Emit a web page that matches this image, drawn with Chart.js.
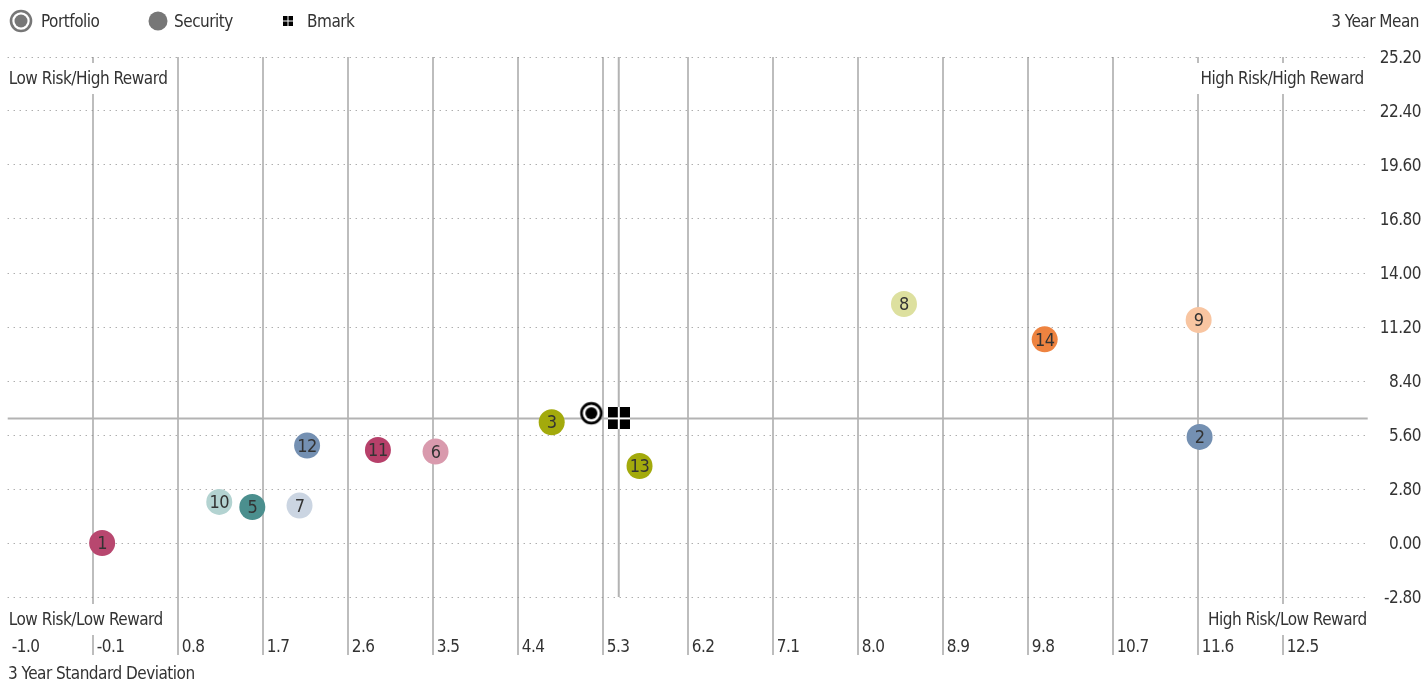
<!DOCTYPE html>
<html>
<head>
<meta charset="utf-8">
<script src="https://cdn.jsdelivr.net/npm/chart.js@4.4.0/dist/chart.umd.min.js"></script>
<style>
  html, body { margin: 0; padding: 0; background: #fff; }
  #chart { display: block; }
</style>
</head>
<body>
<canvas id="chart" width="1421" height="683"></canvas>
<script>
// axis ticks
const xTicks = [-1.0, -0.1, 0.8, 1.7, 2.6, 3.5, 4.4, 5.3, 6.2, 7.1, 8.0, 8.9, 9.8, 10.7, 11.6, 12.5];
const yTicks = [25.2, 22.4, 19.6, 16.8, 14.0, 11.2, 8.4, 5.6, 2.8, 0.0, -2.8];

// securities: 3 year standard deviation (x) vs 3 year mean (y)
const secIds    = [1, 2, 3, 5, 6, 7, 8, 9, 10, 11, 12, 13, 14];
const secStdDev = [0.00, 11.62, 4.76, 1.59, 3.53, 2.09, 8.49, 11.61, 1.24, 2.92, 2.17, 5.69, 9.98];
const secMean   = [0.00, 5.50, 6.26, 1.87, 4.74, 1.94, 12.39, 11.56, 2.13, 4.82, 5.05, 3.99, 10.56];
const secColors = ['#b8476f', '#7490b2', '#a3aa0c', '#4b8f8e', '#d99aad', '#cbd5e2', '#dde09f',
                   '#f8c5a1', '#b3d3d1', '#b7406a', '#7490b2', '#a3aa0c', '#ee8340'];

const portfolioStdDev = [5.18];
const portfolioMean   = [6.73];
const bmarkStdDev     = [5.47];
const bmarkMean       = [6.46];

const FONT = '"DejaVu Sans Condensed", "Liberation Sans Narrow", sans-serif';
const FS = 17;
const SPACING = '-0.5px';
const TEXT = '#333';
const GRID = '#bdbdbd';

// marker images
function portfolioIcon(){
  const c = document.createElement('canvas'); c.width = 26; c.height = 26;
  const g = c.getContext('2d');
  g.fillStyle = '#fff'; g.beginPath(); g.arc(13, 13, 11, 0, Math.PI*2); g.fill();
  g.strokeStyle = '#000'; g.lineWidth = 2.6; g.beginPath(); g.arc(13, 13, 9.9, 0, Math.PI*2); g.stroke();
  g.fillStyle = '#000'; g.beginPath(); g.arc(13, 13, 6, 0, Math.PI*2); g.fill();
  return c;
}
function bmarkIcon(){
  const c = document.createElement('canvas'); c.width = 22; c.height = 22;
  const g = c.getContext('2d');
  g.fillStyle = '#fff'; g.fillRect(0, 0, 22, 22);
  g.fillStyle = '#000';
  g.fillRect(0, 0, 10, 10); g.fillRect(12, 0, 10, 10);
  g.fillRect(0, 12, 10, 10); g.fillRect(12, 12, 10, 10);
  return c;
}

function text(ctx, s, x, y, align, size){
  ctx.font = (size || FS) + 'px ' + FONT;
  ctx.fillStyle = TEXT; ctx.textAlign = align || 'left'; ctx.textBaseline = 'middle';
  ctx.fillText(s, x, y + 1.5);
}
function boxedText(ctx, s, x, y, align){
  ctx.font = FS + 'px ' + FONT;
  const w = ctx.measureText(s).width;
  const left = align === 'right' ? x - w : x;
  ctx.fillStyle = '#fff';
  ctx.fillRect(left - 4, y - 15, w + 6, 31);
  text(ctx, s, x, y, align);
}

// width of the widest y label, so the labels end at the right edge
const measure = document.createElement('canvas').getContext('2d');
measure.letterSpacing = SPACING;
measure.font = FS + 'px ' + FONT;
const yLabelW = Math.max(...yTicks.map(v => measure.measureText(v.toFixed(2)).width));

const extras = {
  id: 'extras',
  beforeDraw(chart){
    chart.ctx.letterSpacing = SPACING;
  },
  beforeDatasetsDraw(chart){
    const { ctx, chartArea: a, scales: { x, y } } = chart;
    const cx = x.getPixelForValue(bmarkStdDev[0]);
    const cy = y.getPixelForValue(bmarkMean[0]);
    ctx.save();
    ctx.strokeStyle = '#b3b3b3'; ctx.lineWidth = 2;
    ctx.beginPath(); ctx.moveTo(a.left, cy); ctx.lineTo(a.right, cy); ctx.stroke();
    ctx.beginPath(); ctx.moveTo(cx, a.top); ctx.lineTo(cx, a.bottom); ctx.stroke();
    // quadrant captions
    boxedText(ctx, 'Low Risk/High Reward', a.left + 1, 78, 'left');
    boxedText(ctx, 'High Risk/High Reward', a.right - 4, 78, 'right');
    boxedText(ctx, 'Low Risk/Low Reward', a.left + 1, 619, 'left');
    boxedText(ctx, 'High Risk/Low Reward', a.right - 1, 619, 'right');
    ctx.restore();
  },
  afterDatasetsDraw(chart){
    const { ctx } = chart;
    const meta = chart.getDatasetMeta(0);
    ctx.save();
    meta.data.forEach((pt, i) => text(ctx, String(secIds[i]), pt.x, pt.y, 'center', 18));
    ctx.restore();
  },
  afterDraw(chart){
    const { ctx } = chart;
    ctx.save();
    // legend
    ctx.strokeStyle = '#777'; ctx.lineWidth = 2.6;
    ctx.beginPath(); ctx.arc(21, 21, 10, 0, Math.PI*2); ctx.stroke();
    ctx.fillStyle = '#777'; ctx.beginPath(); ctx.arc(21, 21, 6.5, 0, Math.PI*2); ctx.fill();
    text(ctx, 'Portfolio', 41, 21);
    ctx.fillStyle = '#777'; ctx.beginPath(); ctx.arc(158, 21, 9.5, 0, Math.PI*2); ctx.fill();
    text(ctx, 'Security', 174, 21);
    ctx.fillStyle = '#000';
    ctx.fillRect(283, 16, 4.5, 4.5); ctx.fillRect(288.5, 16, 4.5, 4.5);
    ctx.fillRect(283, 21.5, 4.5, 4.5); ctx.fillRect(288.5, 21.5, 4.5, 4.5);
    text(ctx, 'Bmark', 307, 21);
    // axis titles
    text(ctx, '3 Year Mean', 1419, 21, 'right');
    text(ctx, '3 Year Standard Deviation', 8, 673, 'left');
    ctx.restore();
  }
};

new Chart(document.getElementById('chart'), {
  type: 'scatter',
  data: {
    datasets: [
      {
        label: 'Security',
        data: secIds.map((id, i) => ({ x: secStdDev[i], y: secMean[i] })),
        backgroundColor: secColors,
        borderWidth: 0,
        pointRadius: 13,
        pointHoverRadius: 13
      },
      {
        label: 'Portfolio',
        data: portfolioStdDev.map((v, i) => ({ x: v, y: portfolioMean[i] })),
        pointStyle: portfolioIcon()
      },
      {
        label: 'Bmark',
        data: bmarkStdDev.map((v, i) => ({ x: v, y: bmarkMean[i] })),
        pointStyle: bmarkIcon()
      }
    ]
  },
  options: {
    responsive: false,
    animation: false,
    layout: { autoPadding: false, padding: { left: 7.7, top: 57, right: 0, bottom: 0 } },
    plugins: { legend: { display: false }, tooltip: { enabled: false } },
    scales: {
      x: {
        type: 'linear',
        min: -1.0,
        max: 13.4,
        afterBuildTicks: s => { s.ticks = xTicks.map(v => ({ value: v })); },
        afterFit: s => { s.height = 86; },
        border: { display: false },
        grid: {
          color: c => c.index === 0 ? 'rgba(0,0,0,0)' : GRID,
          lineWidth: 2,
          drawTicks: true,
          tickLength: 58,
          tickColor: c => c.index === 0 ? 'rgba(0,0,0,0)' : GRID,
          tickWidth: 2
        },
        ticks: {
          autoSkip: false,
          maxRotation: 0,
          align: 'start',
          labelOffset: 4,
          padding: -18,
          color: TEXT,
          font: { family: FONT, size: FS },
          callback: v => Number(v).toFixed(1)
        }
      },
      y: {
        type: 'linear',
        position: 'right',
        min: -2.8,
        max: 25.2,
        afterBuildTicks: s => { s.ticks = yTicks.map(v => ({ value: v })); },
        afterFit: s => { s.width = 53.3; },
        border: { display: false, dash: [1, 5] },
        grid: { color: '#8a8a8a', lineWidth: 1, drawTicks: false },
        ticks: {
          autoSkip: false,
          crossAlign: 'far',
          labelOffset: 2,
          padding: 1419 - 1367.7 - yLabelW,
          color: TEXT,
          font: { family: FONT, size: FS },
          callback: v => Number(v).toFixed(2)
        }
      }
    }
  },
  plugins: [extras]
});
</script>
</body>
</html>
